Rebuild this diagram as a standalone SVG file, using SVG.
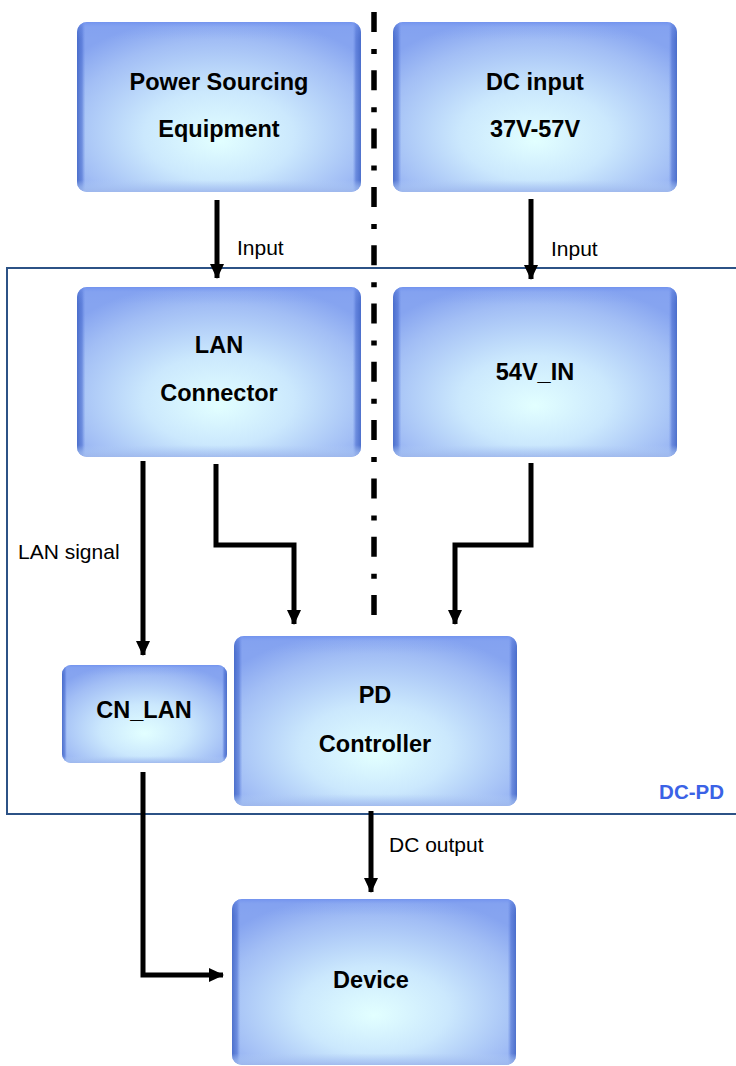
<svg xmlns="http://www.w3.org/2000/svg" width="736" height="1066" viewBox="0 0 736 1066">
<defs>
<radialGradient id="gFill" cx="50%" cy="62%" r="66%" fx="50%" fy="70%">
<stop offset="0%" stop-color="#e2ffff"/>
<stop offset="40%" stop-color="#cbe8fd"/>
<stop offset="80%" stop-color="#a2bef5"/>
<stop offset="100%" stop-color="#86a4f0"/>
</radialGradient>
<linearGradient id="gSide" x1="0" y1="0" x2="1" y2="0">
<stop offset="0%" stop-color="#3f63c4" stop-opacity="0.85"/>
<stop offset="1.8%" stop-color="#4a6dd0" stop-opacity="0.6"/>
<stop offset="3%" stop-color="#6f8fe8" stop-opacity="0"/>
<stop offset="97%" stop-color="#6f8fe8" stop-opacity="0"/>
<stop offset="98.2%" stop-color="#4a6dd0" stop-opacity="0.6"/>
<stop offset="100%" stop-color="#3f63c4" stop-opacity="0.85"/>
</linearGradient>
<linearGradient id="gVert" x1="0" y1="0" x2="0" y2="1">
<stop offset="0%" stop-color="#6f90ee" stop-opacity="0.85"/>
<stop offset="3%" stop-color="#7c9cf0" stop-opacity="0.25"/>
<stop offset="10%" stop-color="#7c9cf0" stop-opacity="0"/>
<stop offset="93%" stop-color="#b0cbf4" stop-opacity="0"/>
<stop offset="97%" stop-color="#a6c2f2" stop-opacity="0.6"/>
<stop offset="100%" stop-color="#9fb8ec" stop-opacity="0.9"/>
</linearGradient>
<marker id="ah" viewBox="0 0 15 14" refX="14" refY="7" markerWidth="15" markerHeight="14" markerUnits="userSpaceOnUse" orient="auto">
<path d="M0,0 L15,7 L0,14 Z" fill="#000"/>
</marker>
</defs>
<style>
.box{fill:url(#gFill);}
.side{fill:url(#gSide);}
.vert{fill:url(#gVert);}
.t{font-family:"Liberation Sans",Arial,sans-serif;font-weight:bold;font-size:23.5px;fill:#000;text-anchor:middle;}
.lbl{font-family:"Liberation Sans",Arial,sans-serif;font-size:21px;fill:#000;}
.cn{fill:none;stroke:#000;stroke-width:5;stroke-linejoin:miter;stroke-linecap:butt;}
</style>
<rect width="736" height="1066" fill="#fff"/>
<g id="frame">
<rect x="7" y="268" width="740" height="546" fill="none" stroke="#2c5286" stroke-width="2"/>
<text x="724" y="799" style="font-family:'Liberation Sans',Arial,sans-serif;font-weight:bold;font-size:20.5px;fill:#3b62e6;text-anchor:end;">DC-PD</text>
</g>
<g id="divider">
<line x1="374" y1="12" x2="374" y2="618" stroke="#000" stroke-width="5.5" stroke-dasharray="20 17 5 16.3"/>
</g>
<g id="pse">
<rect class="box" x="77" y="22" width="284" height="170" rx="10"/>
<rect class="side" x="77" y="22" width="284" height="170" rx="10"/>
<rect class="vert" x="77" y="22" width="284" height="170" rx="10"/>
<text class="t" x="219" y="90">Power Sourcing</text>
<text class="t" x="219" y="137">Equipment</text>
</g>
<g id="dcinput">
<rect class="box" x="393" y="22" width="284" height="170" rx="10"/>
<rect class="side" x="393" y="22" width="284" height="170" rx="10"/>
<rect class="vert" x="393" y="22" width="284" height="170" rx="10"/>
<text class="t" x="535" y="90">DC input</text>
<text class="t" x="535" y="137">37V-57V</text>
</g>
<g id="lan">
<rect class="box" x="77" y="287" width="284" height="170" rx="10"/>
<rect class="side" x="77" y="287" width="284" height="170" rx="10"/>
<rect class="vert" x="77" y="287" width="284" height="170" rx="10"/>
<text class="t" x="219" y="353">LAN</text>
<text class="t" x="219" y="401">Connector</text>
</g>
<g id="v54">
<rect class="box" x="393" y="287" width="284" height="170" rx="10"/>
<rect class="side" x="393" y="287" width="284" height="170" rx="10"/>
<rect class="vert" x="393" y="287" width="284" height="170" rx="10"/>
<text class="t" x="535" y="380">54V_IN</text>
</g>
<g id="cnlan">
<rect class="box" x="62" y="665" width="165" height="98" rx="9"/>
<rect class="side" x="62" y="665" width="165" height="98" rx="9"/>
<rect class="vert" x="62" y="665" width="165" height="98" rx="9"/>
<text class="t" x="144" y="718">CN_LAN</text>
</g>
<g id="pd">
<rect class="box" x="234" y="636" width="283" height="170" rx="10"/>
<rect class="side" x="234" y="636" width="283" height="170" rx="10"/>
<rect class="vert" x="234" y="636" width="283" height="170" rx="10"/>
<text class="t" x="375" y="703">PD</text>
<text class="t" x="375" y="752">Controller</text>
</g>
<g id="device">
<rect class="box" x="232" y="899" width="284" height="166" rx="10"/>
<rect class="side" x="232" y="899" width="284" height="166" rx="10"/>
<rect class="vert" x="232" y="899" width="284" height="166" rx="10"/>
<text class="t" x="371" y="988">Device</text>
</g>
<g id="connectors">
<path class="cn" d="M217,200 V278" marker-end="url(#ah)"/>
<path class="cn" d="M531,199 V279" marker-end="url(#ah)"/>
<path class="cn" d="M143,461 V655" marker-end="url(#ah)"/>
<path class="cn" d="M216,464 V545 H294 V624" marker-end="url(#ah)"/>
<path class="cn" d="M531,463 V545 H455 V624" marker-end="url(#ah)"/>
<path class="cn" d="M143,772 V975 H223" marker-end="url(#ah)"/>
<path class="cn" d="M371,811 V892" marker-end="url(#ah)"/>
</g>
<g id="labels">
<text class="lbl" x="237" y="255">Input</text>
<text class="lbl" x="551" y="256">Input</text>
<text class="lbl" x="18" y="559">LAN signal</text>
<text class="lbl" x="389" y="852">DC output</text>
</g>
</svg>
